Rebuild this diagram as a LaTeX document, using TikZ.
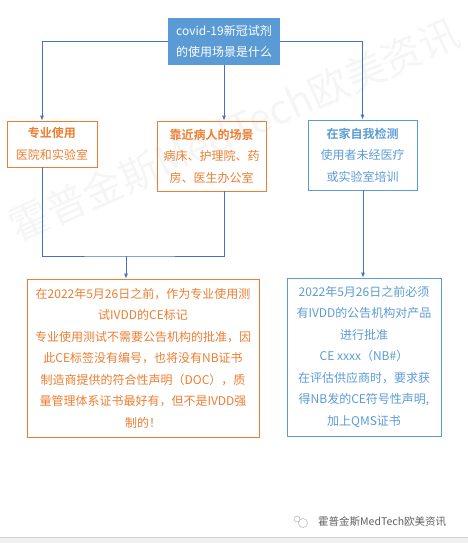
\documentclass[tikz,border=0pt]{standalone}
\usepackage{fontspec}
\setmainfont{Noto Sans CJK SC}[BoldFont={Noto Sans CJK SC Bold}]
\usetikzlibrary{arrows.meta,calc}
\definecolor{topblue}{HTML}{5B9BD5}
\definecolor{lineblue}{HTML}{4472C4}
\definecolor{orng}{HTML}{ED7D31}
\definecolor{lblue}{HTML}{5B9BD5}
\tikzset{
  boxtxt/.style={font=\fontsize{12}{21.5}\selectfont, align=center, inner sep=0pt},
  obox/.style={boxtxt, draw=orng, line width=0.8pt, text=orng},
  bbox/.style={boxtxt, draw=lblue, line width=0.8pt, text=lblue},
  conn/.style={draw=lineblue, line width=0.8pt, -{Latex[length=5pt,width=4pt]}},
  plain/.style={draw=lineblue, line width=0.8pt},
}
\begin{document}
\begin{tikzpicture}[x=1pt,y=-1pt]
\useasboundingbox (0,0) rectangle (468,543);
% watermark
\node[text=gray!8, rotate=24, font=\fontsize{40}{40}\selectfont, inner sep=0pt] (wm) at (234,130) {霍普金斯MedTech欧美资讯};
% boxes
\node[boxtxt, fill=topblue, text=white, minimum width=112pt, minimum height=47pt] (top) at (224,41.5) {covid-19新冠试剂\\的使用场景是什么};
\node[obox, minimum width=90pt, minimum height=46pt] (A) at (52,144) {\textbf{专业使用}\\医院和实验室};
\node[obox, minimum width=109pt, minimum height=70pt] (B) at (211.5,156) {\textbf{靠近病人的场景}\\病床、护理院、药\\房、医生办公室};
\node[bbox, minimum width=109pt, minimum height=70pt] (C) at (362.5,155) {\textbf{在家自我检测}\\使用者未经医疗\\或实验室培训};
\node[obox, minimum width=232pt, minimum height=158pt] (D) at (143,358) {在2022年5月26日之前，作为专业使用测\\试IVDD的CE标记\\专业使用测试不需要公告机构的批准，因\\此CE标签没有编号，也将没有NB证书\\制造商提供的符合性声明（DOC），质\\量管理体系证书最好有，但不是IVDD强\\制的！};
\node[bbox, minimum width=154pt, minimum height=158pt] (E) at (364,357) {2022年5月26日之前必须\\有IVDD的公告机构对产品\\进行批准\\CE xxxx（NB\#）\\在评估供应商时，要求获\\得NB发的CE符号性声明,\\加上QMS证书};
% connectors
\draw[conn] (top.west) -| ([xshift=-10pt]A.north);
\draw[conn] (top.east) -| (C.north);
\draw[conn] (top.south) -- (top.south |- B.north);
\coordinate (m) at (126,256);
\draw[plain] ([xshift=-10pt]A.south) |- (m) -| ([xshift=12.5pt]B.south);
\draw[conn] (m) -- (m |- D.north);
\draw[conn] ([xshift=0.5pt]C.south) -- ([xshift=0.5pt]C.south |- E.north);
% footer
\fill[gray!12] (0,537) rectangle (468,543);
\draw[gray!35, line width=0.6pt] (0,537) -- (468,537);
\node[text=gray!75!black, font=\fontsize{10.5}{12}\selectfont, inner sep=0pt, anchor=west] (cap) at (318,522) {霍普金斯MedTech欧美资讯};
\draw[gray!60, line width=0.5pt] (303,523) circle (4.5pt);
\draw[gray!60, line width=0.5pt] (297,519) circle (3pt);
\end{tikzpicture}
\end{document}
